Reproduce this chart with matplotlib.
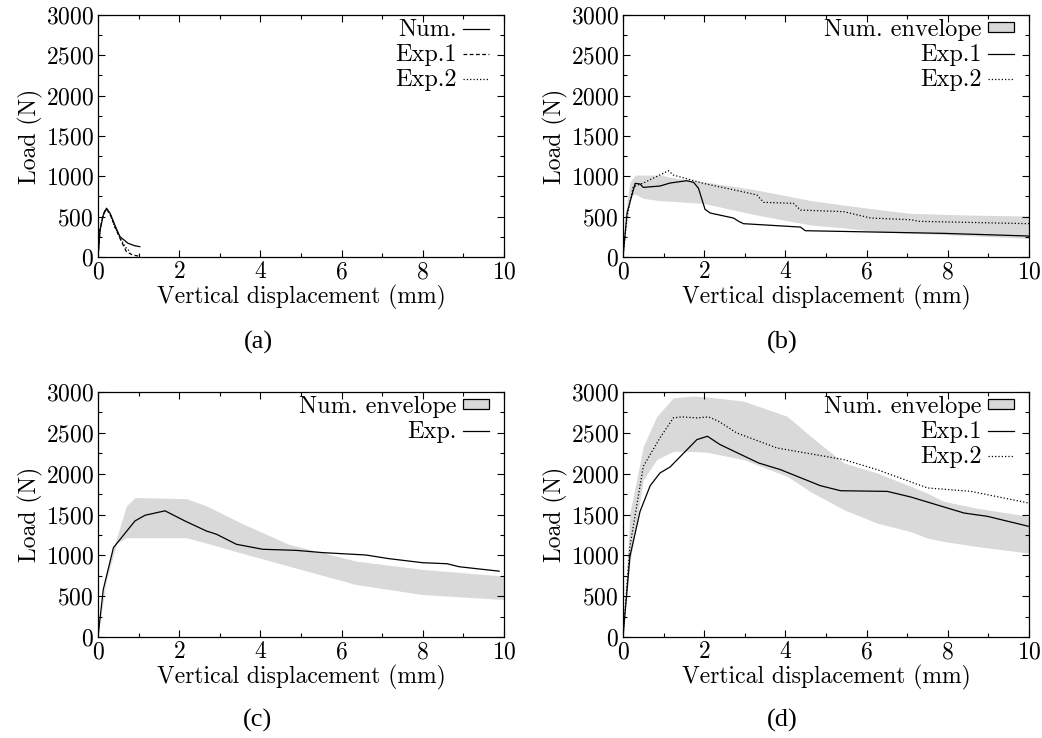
import numpy as np
import matplotlib
matplotlib.use("Agg")
import matplotlib.pyplot as plt
from matplotlib.patches import Patch
from matplotlib.ticker import MultipleLocator

plt.rcParams['font.family'] = 'cmr10'
plt.rcParams['mathtext.fontset'] = 'cm'
plt.rcParams['axes.formatter.use_mathtext'] = True

# ---- panel (a)
a_num_x = [0, 0.05, 0.13, 0.21, 0.3, 0.42, 0.54, 0.74, 0.9, 1.03]
a_num_y = [0, 334, 520, 605, 540, 390, 253, 170, 140, 128]
a_exp1_x = [0, 0.05, 0.13, 0.2, 0.3, 0.42, 0.54, 0.7, 0.85, 0.99]
a_exp1_y = [0, 340, 530, 600, 530, 370, 232, 66, 25, 12]
a_exp2_x = [0, 0.05, 0.13, 0.2, 0.3, 0.42, 0.54, 0.68, 0.8]
a_exp2_y = [0, 335, 525, 598, 525, 365, 240, 120, 60]

# ---- panel (b)
b_env_x = [0.1, 0.17, 0.3, 0.5, 0.91, 1.33, 1.98, 3.3, 4.62, 5.44, 6.26, 7.09, 8.5, 10]
b_env_lo = [350, 760, 780, 727, 699, 686, 665, 520, 397, 360, 314, 295, 265, 231]
b_env_hi = [700, 930, 1016, 1016, 1016, 975, 933, 830, 700, 644, 590, 541, 520, 508]
b_exp1_x = [0, 0.1, 0.3, 0.42, 0.5, 0.91, 1.16, 1.57, 1.74, 1.86, 2.02, 2.15, 2.72, 2.85,
            2.97, 4.37, 4.49, 7.9, 10]
b_exp1_y = [0, 550, 913, 905, 863, 880, 917, 946, 925, 851, 591, 545, 483, 442,
            413, 371, 326, 293, 260]
b_exp2_x = [0, 0.1, 0.25, 0.5, 1.12, 1.24, 1.98, 3.13, 3.3, 3.46, 4.2, 4.37, 5.44, 6.1,
            7.09, 7.3, 10]
b_exp2_y = [0, 500, 870, 917, 1069, 1016, 913, 789, 768, 678, 665, 582, 562, 483,
            462, 442, 413]

# ---- panel (c)
c_env_x = [0.05, 0.21, 0.46, 0.7, 0.91, 2.17, 2.67, 3.5, 4.7, 6.35, 7.99, 10]
c_env_lo = [200, 700, 1150, 1216, 1216, 1216, 1150, 1032, 868, 643, 520, 459]
c_env_hi = [250, 800, 1216, 1606, 1707, 1695, 1606, 1401, 1135, 930, 828, 746]
c_exp_x = [0, 0.13, 0.38, 0.91, 1.16, 1.65, 2.14, 2.67, 2.92, 3.41, 4.06, 4.88, 5.54,
           6.6, 7.17, 7.99, 8.6, 8.9, 9.88]
c_exp_y = [0, 582, 1094, 1421, 1491, 1545, 1421, 1298, 1258, 1135, 1074, 1061, 1033,
           1004, 959, 910, 897, 860, 806]

# ---- panel (d)
d_env_x = [0.05, 0.17, 0.5, 0.83, 1.24, 1.74, 2.07, 2.97, 4.04, 4.62, 5.44, 6.26, 7.09,
           7.5, 7.9, 8.7, 10]
d_env_lo = [300, 900, 1926, 2172, 2274, 2270, 2262, 2172, 1968, 1780, 1559, 1395, 1290,
            1211, 1170, 1109, 1027]
d_env_hi = [450, 1517, 2335, 2700, 2929, 2950, 2940, 2888, 2704, 2458, 2131, 2008, 1845,
            1760, 1661, 1579, 1477]
d_exp1_x = [0, 0.17, 0.42, 0.67, 0.91, 1.16, 1.82, 2.08, 2.39, 3.34, 3.88, 4.86, 5.36,
            6.51, 7.09, 8.4, 8.98, 10]
d_exp1_y = [0, 985, 1538, 1853, 2008, 2082, 2417, 2458, 2356, 2131, 2049, 1853, 1791,
            1783, 1714, 1518, 1477, 1354]
d_exp2_x = [0, 0.17, 0.5, 0.91, 1.24, 1.45, 1.82, 2.11, 2.35, 2.8, 3.79, 5.44, 6.26,
            7.5, 8.56, 10]
d_exp2_y = [0, 1108, 2090, 2438, 2683, 2695, 2683, 2695, 2642, 2499, 2315, 2172, 2049,
            1825, 1784, 1640]

ENV = '#d9d9d9'
FS = 17
W, H = 1042, 738
fig = plt.figure(figsize=(W / 100, H / 100), dpi=100)


def make_ax(x0, x1, ytop, ybot):
    ax = fig.add_axes([x0 / W, (H - ybot) / H, (x1 - x0) / W, (ybot - ytop) / H])
    ax.set_xlim(0, 10)
    ax.set_ylim(0, 3000)
    ax.xaxis.set_major_locator(MultipleLocator(2))
    ax.xaxis.set_minor_locator(MultipleLocator(1))
    ax.yaxis.set_major_locator(MultipleLocator(500))
    ax.yaxis.set_minor_locator(MultipleLocator(250))
    ax.tick_params(which='both', direction='in', top=True, right=True, labelsize=FS, width=0.8)
    ax.tick_params(which='major', length=5, pad=3)
    ax.tick_params(which='minor', length=3)
    ax.set_xlabel('Vertical displacement (mm)', fontsize=FS, labelpad=1)
    ax.set_ylabel('Load (N)', fontsize=FS, labelpad=2)
    for s in ax.spines.values():
        s.set_linewidth(0.9)
    return ax


def legend(ax, handles=None, labels=None):
    kw = dict(loc='upper right', bbox_to_anchor=(1, 1.045), frameon=False,
              markerfirst=False, fontsize=17.5,
              handlelength=1.1, handletextpad=0.25, labelspacing=0.12,
              borderaxespad=0.0, borderpad=0.6, handleheight=0.22)
    if handles is None:
        ax.legend(**kw)
    else:
        ax.legend(handles, labels, **kw)


def env_handle():
    return Patch(facecolor=ENV, edgecolor='black', linewidth=0.9)


lw = 0.9
solid = plt.Line2D([], [], color='k', lw=lw)
dotted = plt.Line2D([], [], color='k', ls=':', lw=lw)

ax = make_ax(98, 504, 15, 257)
ax.plot(a_num_x, a_num_y, 'k-', lw=lw, label='Num.')
ax.plot(a_exp1_x, a_exp1_y, 'k--', lw=lw, dashes=(3, 2), label='Exp.1')
ax.plot(a_exp2_x, a_exp2_y, 'k:', lw=lw, label='Exp.2')
legend(ax)

ax = make_ax(623, 1029, 15, 257)
ax.fill_between(b_env_x, b_env_lo, b_env_hi, color=ENV, lw=0)
ax.plot(b_exp1_x, b_exp1_y, 'k-', lw=lw)
ax.plot(b_exp2_x, b_exp2_y, 'k:', lw=lw)
legend(ax, [env_handle(), solid, dotted], ['Num. envelope', 'Exp.1', 'Exp.2'])

ax = make_ax(98, 504, 392, 637)
ax.fill_between(c_env_x, c_env_lo, c_env_hi, color=ENV, lw=0)
ax.plot(c_exp_x, c_exp_y, 'k-', lw=lw)
legend(ax, [env_handle(), solid], ['Num. envelope', 'Exp.'])

ax = make_ax(623, 1029, 392, 637)
ax.fill_between(d_env_x, d_env_lo, d_env_hi, color=ENV, lw=0)
ax.plot(d_exp1_x, d_exp1_y, 'k-', lw=lw)
ax.plot(d_exp2_x, d_exp2_y, 'k:', lw=lw)
legend(ax, [env_handle(), solid, dotted], ['Num. envelope', 'Exp.1', 'Exp.2'])

for lab, x, y in [('(a)', 258, 342), ('(b)', 782, 342), ('(c)', 258, 720), ('(d)', 782, 720)]:
    fig.text(x / W, (H - y) / H, lab, ha='center', va='center', fontsize=19,
             family='Liberation Serif')

fig.savefig('out.png', dpi=100)
